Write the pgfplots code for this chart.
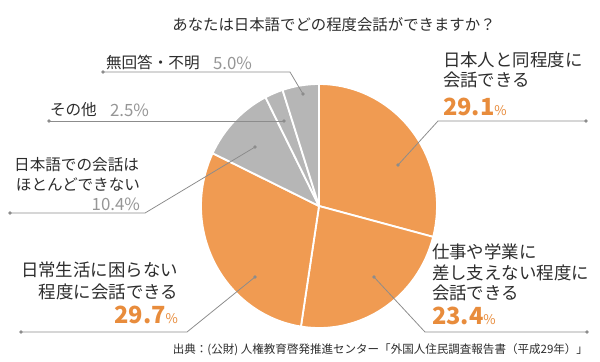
\documentclass[border=0pt]{standalone}
\usepackage{pgfplots}
\pgfplotsset{compat=1.18}
\usepackage{fontspec}
\setmainfont{Noto Sans CJK JP}
\definecolor{sliceO}{RGB}{240,155,82}
\definecolor{sliceG}{RGB}{182,182,182}
\definecolor{pctO}{RGB}{232,140,60}
\definecolor{txtD}{RGB}{45,45,45}
\definecolor{txtG}{RGB}{150,150,150}
\definecolor{lead}{RGB}{140,140,140}
% data (percent)
\def\vA{29.1}\def\vB{23.4}\def\vC{29.7}\def\vD{10.4}\def\vE{2.5}\def\vF{5.0}
\pgfmathsetmacro\tot{\vA+\vB+\vC+\vD+\vE+\vF}
\pgfmathsetmacro\aA{90}
\pgfmathsetmacro\aB{\aA-\vA/\tot*360}
\pgfmathsetmacro\aC{\aB-\vB/\tot*360}
\pgfmathsetmacro\aD{\aC-\vC/\tot*360}
\pgfmathsetmacro\aE{\aD-\vD/\tot*360}
\pgfmathsetmacro\aF{\aE-\vE/\tot*360}
\pgfmathsetmacro\aG{\aF-\vF/\tot*360}
\newcommand\lab{\fontsize{12.4}{14.5}\selectfont}
\newcommand\labs{\fontsize{11.1}{13}\selectfont}
\newcommand\bigp[1]{{\fontsize{16.8}{18}\selectfont\bfseries #1}{\fontsize{9.5}{10}\selectfont\%}}
\newcommand\gp[1]{{\fontsize{12}{13}\selectfont #1\%}}
\tikzset{pslice/.style={draw=white,line width=1.3pt,line join=round},
  ld/.style={draw=lead,line width=0.55pt},
  dt/.style={fill=lead,draw=none}}
\newcommand\psl[3]{\fill[#1,pslice] (axis cs:319,206) -- ++(#2:2.95cm and 3.05cm) arc[start angle=#2,end angle=#3,x radius=2.95cm,y radius=3.05cm] -- cycle;}
\begin{document}
\begin{tikzpicture}
\begin{axis}[width=15cm,height=9.025cm,scale only axis,hide axis,clip=false,
  xmin=0,xmax=600,ymin=0,ymax=361,y dir=reverse]
\path[fill=white] (rel axis cs:0,0) rectangle (rel axis cs:1,1);
\psl{sliceO}{\aA}{\aB}
\psl{sliceO}{\aB}{\aC}
\psl{sliceO}{\aC}{\aD}
\psl{sliceG}{\aD}{\aE}
\psl{sliceG}{\aE}{\aF}
\psl{sliceG}{\aF}{\aG}
% leaders
\draw[ld] (axis cs:398,165) -- (axis cs:438,121) -- (axis cs:586,121);
\draw[ld] (axis cs:374,277) -- (axis cs:425,332) -- (axis cs:587,332);
\draw[ld] (axis cs:255,277) -- (axis cs:187,332) -- (axis cs:21,332);
\draw[ld] (axis cs:255,147) -- (axis cs:145,213) -- (axis cs:10,213);
\draw[ld] (axis cs:284,121) -- (axis cs:49,121);
\draw[ld] (axis cs:303,94) -- (axis cs:290,72) -- (axis cs:103,72);
\fill[dt] (axis cs:398,165) circle[radius=1.4pt];
\fill[dt] (axis cs:586,121) circle[radius=1.4pt];
\fill[dt] (axis cs:374,277) circle[radius=1.4pt];
\fill[dt] (axis cs:587,332) circle[radius=1.4pt];
\fill[dt] (axis cs:255,277) circle[radius=1.4pt];
\fill[dt] (axis cs:21,332) circle[radius=1.4pt];
\fill[dt] (axis cs:255,147) circle[radius=1.4pt];
\fill[dt] (axis cs:10,213) circle[radius=1.4pt];
\fill[dt] (axis cs:284,121) circle[radius=1.4pt];
\fill[dt] (axis cs:49,121) circle[radius=1.4pt];
\fill[dt] (axis cs:303,94) circle[radius=1.4pt];
\fill[dt] (axis cs:103,72) circle[radius=1.4pt];
% texts
\tikzset{every node/.style={inner sep=0pt,outer sep=0pt}}
\node[txtD,font=\fontsize{10.95}{12}\selectfont] at (axis cs:334,25) {あなたは日本語でどの程度会話ができますか？};
\node[txtD,anchor=west,font=\labs] at (axis cs:106,63) {無回答・不明};
\node[txtG,anchor=west] at (axis cs:213,63) {\gp{5.0}};
\node[txtD,anchor=west,font=\labs] at (axis cs:50,110) {その他};
\node[txtG,anchor=west] at (axis cs:110,110) {\gp{2.5}};
\node[txtD,anchor=east,font=\labs] at (axis cs:139,165) {日本語での会話は};
\node[txtD,anchor=east,font=\labs] at (axis cs:140,185) {ほとんどできない};
\node[txtG,anchor=east] at (axis cs:140,204) {\gp{10.4}};
\node[txtD,anchor=east,font=\lab] at (axis cs:178,270) {日常生活に困らない};
\node[txtD,anchor=east,font=\lab] at (axis cs:178,292) {程度に会話できる};
\node[pctO,anchor=east] at (axis cs:178,315) {\bigp{29.7}};
\node[txtD,anchor=west,font=\lab] at (axis cs:443,60) {日本人と同程度に};
\node[txtD,anchor=west,font=\lab] at (axis cs:443,80) {会話できる};
\node[pctO,anchor=west] at (axis cs:443,107) {\bigp{29.1}};
\node[txtD,anchor=west,font=\lab] at (axis cs:432,252) {仕事や学業に};
\node[txtD,anchor=west,font=\lab] at (axis cs:432,273) {差し支えない程度に};
\node[txtD,anchor=west,font=\lab] at (axis cs:432,293) {会話できる};
\node[pctO,anchor=west] at (axis cs:432,316) {\bigp{23.4}};
\node[txtD,anchor=east,font=\fontsize{8.2}{10}\selectfont] at (axis cs:588,350) {出典：(公財) 人権教育啓発推進センター「外国人住民調査報告書（平成29年）」};
\end{axis}
\end{tikzpicture}
\end{document}
